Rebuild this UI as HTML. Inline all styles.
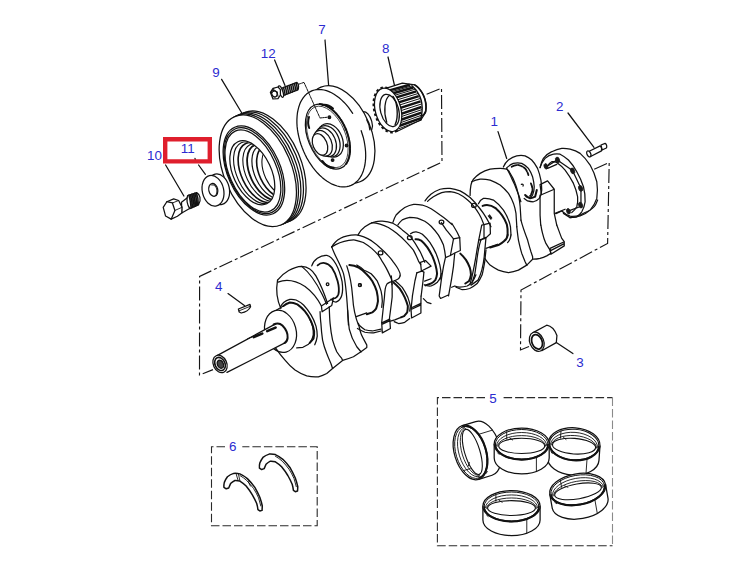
<!DOCTYPE html>
<html><head><meta charset="utf-8">
<style>
html,body{margin:0;padding:0;background:#fff;}
body{width:731px;height:570px;overflow:hidden;font-family:"Liberation Sans",sans-serif;}
svg{display:block}
.l{font-family:"Liberation Sans",sans-serif;font-size:13.4px;fill:#2b2bd0;}
.k{fill:none;stroke:#111;stroke-width:1.25;stroke-linecap:round;stroke-linejoin:round}
.w{fill:#fff;stroke:#111;stroke-width:1.25;stroke-linecap:round;stroke-linejoin:round}
.t{fill:none;stroke:#111;stroke-width:0.9;stroke-linecap:round;stroke-linejoin:round}
path,ellipse,circle,line,polygon,polyline,rect{vector-effect:non-scaling-stroke}
.d{fill:none;stroke:#151515;stroke-width:1.15;stroke-dasharray:14 3 3 3}
.b{fill:none;stroke:#2a2a2a;stroke-width:1.1;stroke-dasharray:8.5 3}
</style></head>
<body>
<svg width="731" height="570" viewBox="0 0 731 570">
<rect width="731" height="570" fill="#fff"/>
<defs><g id="ring">
 <path class="w" d="M-27.5 0 L-27.5 14 A27.5 16 0 0 0 27.5 14 L27.5 0 Z"/>
 <ellipse class="w" rx="27.5" ry="16"/>
 <ellipse class="k" rx="26.3" ry="14.8" cy="0.3" style="stroke-width:1"/>
 <path class="k" d="M-26.3 0.6 A26.3 14.8 0 0 0 26.3 0.6" style="stroke-width:1.7"/>
 <path class="t" d="M-25 1.5 A25 13 0 0 1 25 1.5"/>
 <path class="t" d="M-24 2.2 A24 10.6 0 0 1 24 2.2"/>
 <ellipse class="k" rx="23" ry="7.6" cy="1.9" style="stroke-width:1.1"/>
 <path class="t" d="M14.7 13.6 L14.7 27.4"/>
 <path class="t" d="M-15 -12.4 L-15 -5 M-12 -6 L-9 -4"/>
 <path class="t" d="M-24 9 L-22.5 10.5"/>
</g></defs>

<!-- DASHDOT -->
<g id="dashdot">
<path class="d" d="M426.6 94.3 L441.5 88.2 L442 162 L199.6 276.4 L199.5 375 L213 369.6"/>
<path class="d" d="M594.2 169.2 L609.2 162.5 L607.6 243.4 L521 290 L520.5 350 L529 346.5"/>
</g>

<!-- BOXES -->
<g id="boxes">
<path class="b" d="M485 397.6 L437.4 397.6 L437.4 545.7 L612.5 545.7"/><path class="b" d="M503.6 397.6 L612.5 397.6"/><path class="b" d="M612.5 397.6 L612.5 545.7" style="stroke:#8a8a8a"/>
<path class="b" d="M225 446.7 L211.5 446.7 L211.5 525.7 L317.2 525.7 L317.2 446.7 L242.3 446.7"/>
</g>

<!-- PARTS -->
<g id="parts">
<!-- CRANK -->
<g id="crank">
<!-- C6: tile [260,230,382,325] 6x -->
<g id="c6" class="k" transform="translate(260,230) scale(0.16689)">
 <path d="M105 300 C 98 340, 98 410, 125 470"/>
 <path d="M105 300 C 140 255, 200 220, 250 218 C 290 220, 315 240, 335 275 C 360 320, 385 380, 405 440"/>
 <path d="M108 312 C 150 295, 210 300, 270 338 C 320 375, 350 420, 368 455"/>
 <path d="M250 218 C 290 250, 340 320, 372 385 C 382 405 392 425 398 445"/>
 <path d="M368 455 L372 490 M368 455 L440 408 M372 490 L430 452 L440 408"/>
 <path d="M310 215 C 320 180, 360 150, 400 152 C 440 160, 475 230, 492 310 C 500 370, 490 420, 455 432 C 440 432 430 422 425 415"/>
 <path d="M345 212 C 370 188, 405 195, 430 225 C 460 270, 480 340, 470 385 C 462 405 450 410 440 410" style="stroke-width:1.8"/>
 <circle cx="405" cy="325" r="8"/>
 <path d="M430 100 C 440 140, 480 200, 500 260 C 515 320, 520 400, 525 480 L 530 569"/>
 <path d="M520 215 C 535 260 550 330 555 400 C 558 450 570 520 590 569"/>
 <circle cx="598" cy="330" r="8"/>
</g>
<!-- D6: tile [330,185,452,280] 6x -->
<g id="d6" class="k" transform="translate(330,185) scale(0.16689)">
 <path d="M10 372 C 25 345, 45 328, 60 321 C 90 305, 125 298, 157 299 C 190 304, 222 318, 250 335 C 268 347, 285 361, 300 376 C 318 392, 335 408, 350 425 C 362 438, 372 450, 380 462 C 388 472, 394 481, 400 490 C 408 502, 414 514, 418 525 C 421 533, 421 540, 420 545"/>
 <path d="M168 299 C 180 275, 195 260, 209 250 C 230 235, 250 225, 269 221 C 285 217, 300 216, 314 217 C 335 219, 355 222, 374 228 C 395 238, 415 252, 433 269 C 452 283, 470 298, 486 314 C 505 340, 522 368, 538 396 C 550 420, 560 442, 568 463"/>
 <path d="M377 224 C 382 208, 388 193, 396 180 C 412 162, 430 147, 448 135 C 465 126, 483 119, 501 116 C 518 115, 536 117, 553 120 C 572 126, 590 133, 606 142 C 625 154, 643 167, 660 180 C 675 190, 688 200, 700 210 L 731 237"/>
 <path d="M407 239 C 415 227, 424 217, 433 209 C 448 202, 463 197, 478 194 C 493 194, 508 195, 523 198 C 538 203, 553 210, 568 217 C 582 226, 595 236, 606 247 C 622 264, 637 282, 650 300 C 662 320, 672 340, 680 360 C 686 385 690 410 692 430"/>
 <ellipse cx="303" cy="407" rx="14" ry="12"/><ellipse cx="478" cy="316" rx="14" ry="12"/><ellipse cx="668" cy="222" rx="14" ry="12"/>
</g>
<!-- F6: tile [400,140,522,235] 6x -->
<g id="f6" class="k" transform="translate(400,140) scale(0.16689)">
 <path d="M150 365 C 160 350, 172 336, 185 325 C 202 312, 220 302, 240 295 C 260 290, 280 289, 300 290 C 320 293, 340 298, 360 305 C 382 316, 402 330, 420 345 C 438 362, 455 380, 470 400 C 482 415, 492 428, 500 440 C 512 458, 522 474, 530 490 L 545 520"/>
 <path d="M165 368 C 176 357, 188 348, 200 340 C 216 330, 233 321, 250 315 C 267 311, 284 310, 300 310 C 317 312, 334 316, 350 322 C 368 331, 385 342, 400 355 C 415 367, 428 380, 440 395 C 453 411, 465 428, 475 445 C 485 462, 493 481, 500 500"/>
 <ellipse cx="443" cy="392" rx="14" ry="12"/>
 <path d="M420 332 C 420 310, 421 290, 425 270 C 428 257, 433 245, 440 235 C 452 221, 466 209, 480 200 C 499 189, 519 181, 540 175 C 560 171, 580 170, 600 170 C 614 170, 628 172, 640 175 C 650 180, 656 190, 660 200 C 672 218, 682 238, 690 260 C 699 282, 705 306, 710 330 C 715 353, 718 376, 720 400 L 725 480"/>
 <path d="M430 250 C 446 243, 463 238, 480 235 C 500 234, 520 236, 540 240 C 561 248, 581 258, 600 270 C 618 285, 635 302, 650 320 C 662 339, 672 359, 680 380 C 687 400, 692 420, 695 440 L 700 520"/>
 <path d="M470 382 C 478 365, 488 355, 500 350 C 520 348, 541 352, 560 360 C 582 376, 602 397, 620 420 C 636 445, 655 480, 662 520 L 665 569"/>
 <path d="M495 395 C 520 385, 550 392, 575 410 C 600 432, 625 465, 640 505 C 645 525, 646 548, 645 569" style="stroke-width:2"/>
</g>
<!-- G6: tile [490,135,612,230] 6x -->
<g id="g6" transform="translate(490,135) scale(0.16689)">
 <g class="k">
 <!-- W8 ring -->
 <path d="M80 192 C 90 170, 100 158, 110 150 C 128 136, 145 128, 160 125 C 178 122, 195 122, 210 125 C 226 132, 240 140, 250 150 C 265 166, 276 183, 285 200 C 294 223, 300 246, 305 270 C 308 290, 310 310, 310 330 C 308 350, 303 368, 295 380 C 285 392, 273 398, 260 400 C 245 400, 232 397, 225 395 L205 380"/>
 <path d="M100 197 C 112 185, 126 176, 140 170 C 157 166, 174 166, 190 170 C 206 178, 220 188, 230 200 C 241 216, 249 233, 255 250 C 260 270, 264 290, 265 310 C 265 330, 261 347, 255 360 C 249 368, 242 373, 235 375 L215 370"/>
 <path d="M130 190 C 145 182, 160 178, 172 180 C 188 184, 200 192, 210 200 C 220 212, 226 226, 230 240" style="stroke-width:1.8;stroke-dasharray:5 1.5"/>
 <path d="M245 290 C 252 305, 255 320, 254 332 C 252 346, 247 357, 240 365" style="stroke-width:1.8;stroke-dasharray:5 1.5"/>
 <path d="M100 200 C 112 220, 122 240, 130 260 C 142 283, 152 306, 160 330 C 170 353, 178 376, 185 400"/>
 <path d="M188 296 C 196 292, 202 298, 198 306"/>
 <!-- W8 block -->
 <path d="M300 297 L345 275 L385 325 L308 358 M300 297 L308 358"/>
 <path d="M300 360 L300 480 L304 540 M385 328 L385 470 L400 540"/>
 <!-- flange -->
 <path d="M300 195 C 305 172, 312 154, 320 140 C 335 122, 352 108, 370 100 C 390 90, 410 83, 430 80 C 447 79, 464 81, 480 85 C 502 91, 522 99, 540 110 C 563 130, 583 154, 600 180 C 618 212, 631 245, 640 280 C 645 313, 645 347, 640 380 C 631 408, 617 431, 600 450 C 582 466, 562 478, 540 485 C 520 492, 500 495, 480 495 L440 470"/>
 <path d="M300 195 C 308 172, 318 153, 330 140 C 345 126, 362 118, 380 115 C 394 112, 408 112, 420 115 C 438 124, 455 136, 470 150 C 490 171, 506 195, 520 220 C 537 249, 550 279, 560 310 C 568 340, 571 370, 570 400 C 567 423, 560 443, 550 460 C 541 472, 531 482, 520 490 L480 495"/>
 <path d="M340 190 C 348 176, 358 166, 370 160 C 380 158, 390 160, 400 165 C 418 178, 435 193, 450 210 C 469 235, 486 262, 500 290 C 512 316, 520 343, 525 370 C 527 391, 525 411, 520 430 C 512 444, 502 456, 490 465"/>
 <path d="M345 186 L398 152 M412 156 L488 208 M500 225 L540 308 M545 335 L545 405 M538 430 L480 452"/>
 <path d="M345 200 L400 176 M390 470 L450 445"/>
 </g>
 <g fill="#1a1a1a" stroke="#1a1a1a" stroke-width="0.8">
  <ellipse cx="335" cy="188" rx="11" ry="17" transform="rotate(-20 335 188)"/>
  <ellipse cx="405" cy="150" rx="12" ry="18" transform="rotate(-20 405 150)"/>
  <ellipse cx="495" cy="215" rx="12" ry="18" transform="rotate(-20 495 215)"/>
  <ellipse cx="543" cy="320" rx="12" ry="18" transform="rotate(-20 543 320)"/>
  <ellipse cx="543" cy="420" rx="12" ry="18" transform="rotate(-20 543 420)"/>
  <ellipse cx="470" cy="457" rx="11" ry="17" transform="rotate(-20 470 457)"/>
 </g>
 <!-- pin 2 -->
 <g class="w">
  <path d="M665 60 L690 50 C700 55 702 72 697 78 L672 90 Z"/>
  <path d="M588 100 L660 65 C668 72 670 88 668 95 L600 130 Z"/>
  <ellipse cx="592" cy="113" rx="11" ry="19" transform="rotate(-25 592 113)"/>
 </g>
</g>
<!-- K8: tile [395,225,486,296] 8x -->
<g id="k8" class="k" transform="translate(395,225) scale(0.124487)">
 <path d="M125 70 C 140 58, 155 54, 170 55 C 188 58, 205 65, 220 75 C 242 95, 262 117, 280 140 C 299 169, 316 199, 330 230 C 342 259, 352 289, 360 320 C 366 347, 370 374, 370 400 C 368 415 365 430 360 440"/>
 <path d="M165 115 C 180 114, 196 118, 210 125 C 228 141, 245 160, 260 180 C 275 203, 288 226, 300 250 C 310 273, 318 296, 325 320 C 331 343, 336 367, 338 390 C 336 408, 332 425, 325 440 C 315 452, 303 462, 290 470 L 245 485" style="stroke-width:2"/>
 <path d="M205 300 L245 285 L290 330 L212 370 Z"/>
 <path d="M175 385 L215 370 L232 378"/>
 <path d="M175 385 C 170 410, 165 430, 160 450 L 140 570 M232 380 C 230 405, 228 428, 225 450 L 210 570"/>
 <path d="M235 480 C 255 490, 272 492, 290 490 C 308 483, 325 473, 340 460 C 350 448, 358 434, 365 420 L 372 390"/>
 <path d="M470 112 L520 102 L525 205 L480 225 L445 245 Z"/>
 <path d="M372 -20 C 388 4, 405 30, 420 50 L 470 112"/>
 <path d="M456 -14 C 471 10, 486 35, 500 60 L 520 102"/>
 <path d="M405 262 L445 245 M405 262 C 400 285, 395 308, 390 330 C 385 360, 380 390, 375 420 L 355 570 L 366 590 L 428 562 M480 228 C 476 262, 473 296, 470 330 C 465 363, 460 397, 455 430 L 430 570"/>
 <path d="M525 230 C 541 245, 556 262, 570 280 C 582 299, 592 319, 600 340 C 606 360, 610 380, 610 400 C 607 418, 602 435, 595 450 L 565 470" style="stroke-width:2"/>
 <path d="M455 500 L480 490 C 493 495, 506 499, 520 500 C 541 499, 561 496, 580 490 C 595 482, 608 472, 620 460 C 632 441, 642 421, 650 400"/>
 <path d="M690 120 C 682 146, 675 173, 670 200 C 664 233, 659 266, 655 300 C 650 333, 645 367, 640 400 L 620 460"/>
 <path d="M731 200 C 727 233, 724 266, 720 300 C 714 334, 708 368, 700 400 C 689 426, 675 450, 660 470 C 641 486, 621 500, 600 510 C 580 516, 560 520, 540 520 L 490 500"/>
 <path d="M690 120 L715 105 L731 100 M715 105 L715 0"/>
</g>
<!-- L8: tile [355,215,446,286] 8x -->
<g id="l8" class="k" transform="translate(355,215) scale(0.124487)">
 <path d="M-187 256 C -150 232, -100 212, -50 204 C -30 201, -10 200, 0 201 C 23 206, 46 212, 67 221 C 90 235, 113 251, 134 268 C 153 285, 171 303, 188 322 C 200 340, 211 358, 221 377 C 232 393, 241 409, 250 425 C 259 442, 267 458, 275 475 L 293 515 L 298 560"/>
 <path d="M134 62 C 156 64, 180 68, 201 74 C 224 81, 247 90, 268 100 C 291 114, 314 130, 335 147 C 358 166, 381 186, 402 208 C 425 232, 448 256, 469 282 C 484 310, 498 340, 510 370 L 528 398"/>
</g>
<!-- O8: tile [255,295,346,366] 8x : J0 + nose -->
<g id="o8" transform="translate(255,295) scale(0.124487)">
 <g class="k">
  <path d="M160 128 L228 88"/>
  <path d="M205 95 C 212 80, 220 68, 230 60 C 245 48, 262 40, 280 35 C 297 33, 314 35, 330 40 C 352 50, 372 64, 390 80 C 413 104, 433 131, 450 160 C 467 188, 480 218, 490 250 C 497 276, 500 303, 500 330 C 497 355, 490 378, 480 400"/>
  <path d="M228 88 C 243 75, 261 66, 280 60 C 300 60, 321 66, 340 75 C 362 90, 382 109, 400 130 C 420 154, 436 181, 450 210 C 462 236, 470 262, 475 290 C 476 310, 474 330, 470 350 L 440 385" style="stroke-width:2"/>
  <path d="M440 195 C 450 216, 459 238, 465 260 C 468 280, 469 300, 468 320 C 465 334, 461 348, 455 360 C 448 373, 440 385, 430 395 L 385 420 L 335 425"/>
 </g>
 <ellipse class="w" cx="205" cy="292" rx="125" ry="172" transform="rotate(-15 205 292)"/>
 <path class="w" d="M-305 487 L165 232 C 215 225 262 300 255 370 L240 385 L-225 622 Z" style="stroke:none"/>
 <g class="k">
  <path d="M-305 487 L165 232 M-225 622 L240 385"/>
  <path d="M150 237 C 175 225, 200 226, 220 245 C 245 270, 265 310, 262 345 C 260 365 250 380 237 386" style="stroke-width:2"/>
  <path d="M98 290 L165 262 M-10 338 L58 310" style="stroke-width:2.6"/>
  <path d="M-60 352 L-20 335" style="stroke-width:1"/>
 </g>
 <g class="w">
  <ellipse cx="-281" cy="554" rx="54" ry="73" transform="rotate(-25 -281 554)"/>
  <ellipse cx="-281" cy="554" rx="40" ry="55" transform="rotate(-25 -281 554)" style="stroke-width:1.6"/>
  <ellipse cx="-278" cy="556" rx="24" ry="34" transform="rotate(-25 -278 556)" style="fill:#444"/>
 </g>
</g>
<!-- N6: tile [270,290,392,385] 6x : W1 bottom -->
<g id="n6" class="k" transform="translate(270,290) scale(0.16689)">
 <path d="M33 347 C 50 372, 70 398, 90 420 C 108 442, 128 462, 150 480 C 172 495, 195 507, 220 515 C 243 520, 267 522, 290 520 C 308 515, 325 508, 340 500 L 375 470"/>
 <path d="M300 130 C 301 153, 302 177, 305 200 C 307 233, 310 267, 315 300 C 321 328, 330 355, 340 380 C 347 400, 356 420, 365 440 L 375 470"/>
 <path d="M355 100 C 356 133, 357 167, 360 200 C 363 234, 368 268, 375 300 C 382 324, 390 348, 400 370 C 409 384, 419 398, 430 410 L 435 422 L 375 470"/>
 <path d="M465 120 C 467 155, 470 195, 475 235 C 482 265, 495 300, 520 340 L 545 370"/>
 <path d="M530 200 C 535 225, 540 250, 548 268 C 558 290, 570 310, 580 330 L 580 345 L 545 370"/>
 <path d="M435 422 C 450 418, 470 412, 500 400 L 545 370"/>
</g>
<!-- Q8: tile [340,270,431,341] 8x -->
<g id="q8" class="k" transform="translate(340,270) scale(0.124487)">
 <path d="M75 -40 C 100 -38, 125 -32, 150 -20 C 172 -8, 192 10, 210 30 C 229 48, 246 68, 260 90 C 274 115, 286 142, 295 170 C 301 196, 305 223, 305 250 C 302 271, 297 291, 290 310 C 281 322, 271 332, 260 340 L 215 355" style="stroke-width:2"/>
 <path d="M135 -40 C 155 -30, 175 -15, 190 0 C 211 8, 231 18, 250 30 C 268 48, 285 68, 300 90 C 312 116, 322 143, 330 170 C 336 196, 339 223, 340 250 L 335 300"/>
 <circle cx="160" cy="122" r="12"/>
 <path d="M130 375 L215 345"/>
 <path d="M140 470 C 160 482, 180 492, 200 500 C 223 504, 247 506, 270 505 L 330 490 M150 440 C 165 455, 182 468, 200 480 C 220 486, 240 489, 260 490 L 330 475"/>
 <path d="M482 47 C 480 58, 475 66, 469 71 C 458 78, 446 84, 435 88 C 420 92, 410 94, 402 97 C 390 102, 381 108, 376 114 C 369 126, 365 140, 363 154 C 360 175, 358 196, 357 217 L 335 422 M412 47 L417 97 C 419 140, 420 180, 419 217 C 413 270, 405 330, 396 398"/>
 <path d="M335 425 L400 395 L405 470 L340 505 Z M336 437 L401 407"/>
 <path d="M430 100 C 448 115, 465 132, 480 150 C 495 172, 509 196, 520 220 C 530 243, 539 266, 545 290 C 545 307, 543 324, 540 340 L 515 370 L 490 380" style="stroke-width:2"/>
 <path d="M440 85 C 461 102, 481 120, 500 140 C 517 165, 532 192, 545 220 C 553 243, 560 266, 565 290 L 560 330"/>
 <path d="M405 410 L440 400 L490 380 M435 415 C 447 421, 458 426, 470 430 C 487 428, 504 425, 520 420 L 560 390"/>
 <path d="M582 209 L572 300 M651 209 L650 265"/>
 <path d="M570 305 L650 268 L650 345 L575 385 Z M571 317 L650 280"/>
 <path d="M680 90 L731 70 M670 230 L700 260 L731 270"/>
</g>
<!-- R6: tile [440,190,562,285] 6x -->
<g id="r6" class="k" transform="translate(440,190) scale(0.16689)">
 <path d="M250 210 L300 198 L302 262 L272 290 L232 300 Z"/>
 <path d="M232 300 C 226 333, 220 367, 215 400 C 208 440, 198 500, 180 564 M275 290 C 272 327, 268 363, 265 400 C 260 445, 248 500, 228 540 L 186 570"/>
 <path d="M425 269 C 424 290, 415 305, 405 315"/>
 <path d="M405 269 C 404 285, 396 297, 385 305 C 374 315, 362 323, 350 330 L 300 345" style="stroke-width:2"/>
 <path d="M275 350 L345 325"/>
 <path d="M290 155 L305 175 M297 150 L310 168"/>
 <path d="M460 220 C 463 247, 466 274, 470 300 C 476 327, 482 354, 490 380 L 510 430 L 520 450"/>
 <path d="M485 180 C 495 220, 510 260, 525 300 C 531 324, 538 347, 545 370 L 555 400 L 555 415 L 520 450"/>
 <path d="M268 410 C 278 425, 288 438, 300 450 C 316 462, 332 472, 350 480 C 370 487, 390 492, 410 495 C 430 492, 450 487, 470 480 L 520 450"/>
 <path d="M510 30 C 520 40, 530 47, 540 50 C 550 48, 560 45, 570 40 L 580 0" style="stroke-width:2"/>
</g>
<!-- S6: tile [500,200,622,295] 6x -->
<g id="s6" class="k" transform="translate(500,200) scale(0.16689)">
 <path d="M245 150 C 248 170, 251 185, 255 200 C 260 222, 267 242, 275 260 L 300 300 L 305 320"/>
 <path d="M340 150 C 348 170 358 200 370 230 L 385 250 L 385 275 L 305 325 L 300 290 L 385 250 M300 305 L 382 263"/>
 <path d="M200 355 C 215 355, 228 353, 240 350 C 254 346, 267 341, 280 335 L 305 320"/>
 <path d="M335 82 L370 66 C 385 80, 400 90, 420 97 C 440 100, 460 97, 480 90 L 510 75 C 535 65, 560 50, 572 30 L 585 0"/>
</g>
</g>
<!-- P9: pulley (full coords) -->
<g id="p9">
<defs><clipPath id="c9"><ellipse cx="252.3" cy="172.8" rx="18.6" ry="33.8" transform="rotate(-25 252.3 172.8)"/></clipPath></defs>
<g class="w">
<ellipse cx="267.4" cy="166.7" rx="33.7" ry="58.9" transform="rotate(-23 267.4 166.7)"/>
<ellipse cx="264.8" cy="167.8" rx="33.7" ry="58.9" transform="rotate(-23 264.8 167.8)"/>
<ellipse cx="262.2" cy="168.9" rx="33.7" ry="58.9" transform="rotate(-23 262.2 168.9)"/>
<ellipse cx="259.8" cy="169.9" rx="33.7" ry="58.9" transform="rotate(-23 259.8 169.9)"/>
<ellipse cx="257.8" cy="170.8" rx="33.7" ry="58.9" transform="rotate(-23 257.8 170.8)"/>
<ellipse cx="253.9" cy="170.5" rx="26.3" ry="47.3" transform="rotate(-24 253.9 170.5)"/>
<ellipse cx="253.5" cy="170.7" rx="25.0" ry="45.6" transform="rotate(-24 253.5 170.7)"/>
<ellipse cx="252.9" cy="171.0" rx="23.6" ry="43.6" transform="rotate(-24 252.9 171.0)"/>
<ellipse cx="252.3" cy="172.8" rx="19" ry="34.2" transform="rotate(-25 252.3 172.8)"/>
</g>
<g class="k" clip-path="url(#c9)">
<ellipse cx="255.2" cy="172.7" rx="18.28" ry="33.0" transform="rotate(-25 255.2 172.7)" style="stroke-width:1.1"/>
<ellipse cx="259.2" cy="172.5" rx="17.85" ry="31.924999999999997" transform="rotate(-25 259.2 172.5)" style="stroke-width:1.6"/>
<ellipse cx="263.3" cy="172.3" rx="17.400000000000002" ry="30.799999999999997" transform="rotate(-25 263.3 172.3)" style="stroke-width:1.1"/>
<ellipse cx="267.0" cy="172.1" rx="17.0" ry="29.799999999999997" transform="rotate(-25 267.0 172.1)" style="stroke-width:1.8"/>
<ellipse cx="271.2" cy="172.0" rx="16.55" ry="28.674999999999997" transform="rotate(-25 271.2 172.0)" style="stroke-width:1.2"/>
<ellipse cx="275.3" cy="171.8" rx="16.1" ry="27.549999999999997" transform="rotate(-25 275.3 171.8)" style="stroke-width:1.6"/>
<ellipse cx="279.9" cy="171.6" rx="15.600000000000001" ry="26.299999999999997" transform="rotate(-25 279.9 171.6)" style="stroke-width:1.1"/>
</g>
</g>
<!-- P7: damper (full coords) -->
<g id="p7">
<g class="w">
<path d="M362.9 111.7 C 366 111.5, 369.5 114.5, 371.7 121.1 C 372.8 124.5 372.6 127.5 371.7 129.8 L 365 128 Z"/>
<ellipse cx="340.5" cy="134.4" rx="30.6" ry="51.2" transform="rotate(-22.5 340.5 134.4)"/>
<ellipse cx="331.3" cy="138.2" rx="30.6" ry="51.2" transform="rotate(-22.5 331.3 138.2)" style="stroke:none"/>
<path d="M361.2 130.7 L362.3 134.2 L363.4 137.8 L364.2 141.4 L364.8 145.0 L365.3 148.5 L365.6 152.0 L365.7 155.4 L365.6 158.7 L365.3 161.9 L364.9 165.0 L364.2 167.9 L363.4 170.7 L362.4 173.3 L361.3 175.7 L359.9 177.9 L358.4 179.8 L356.8 181.6 L355.0 183.1 L353.1 184.4 L351.1 185.4 L349.0 186.2 L346.8 186.7 L344.5 186.9 L342.1 186.9 L339.7 186.6 L337.2 186.0 L334.7 185.2 L332.1 184.2 L329.6 182.8 L327.1 181.3 L324.6 179.5 L322.1 177.4 L319.7 175.2 L317.3 172.8 L315.0 170.1 L312.8 167.4 L310.8 164.4 L308.8 161.3 L306.9 158.1 L305.2 154.7 L303.6 151.3 L302.2 147.8 L300.9 144.3 L299.8 140.7 L298.9 137.1 L298.1 133.5 L297.5 129.9 L297.1 126.4 L296.9 123.0 L296.9 119.6 L297.1 116.3 L297.4 113.2 L298.0 110.2 L298.7 107.3 L299.6 104.6 L300.6 102.1 L301.9 99.8 L303.3 97.7 L304.8 95.8 L306.5 94.1 L308.3 92.7 L310.3 91.6 L312.3 90.6 L314.5 90.0 L316.8 89.6 L319.1 89.5 L321.5 89.6 L324.0 90.0 L326.5 90.7 L329.0 91.6 L331.5 92.8 L334.1 94.2 L336.6 95.9 L339.1 97.7 L341.5 99.9 L343.9 102.2 L346.2 104.7 L348.5 107.4 L350.6 110.3 L352.7 113.3" style="fill:none"/>
<ellipse cx="327.7" cy="136.6" rx="19.6" ry="34.2" transform="rotate(-22.5 327.7 136.6)"/>
<ellipse cx="327.3" cy="136.9" rx="18.2" ry="32.4" transform="rotate(-22.5 327.3 136.9)" style="stroke-width:0.8"/>
<path d="M319.7 104.1 L321.1 104.3 L322.4 104.5 L323.8 104.9 L325.2 105.4 L326.6 106.0 L328.0 106.8 L329.5 107.7 L330.9 108.7 L332.3 109.8 L333.6 111.0 L335.0 112.3 L336.3 113.7 L337.6 115.2 L338.8 116.8 L340.0 118.5 L341.2 120.2 L342.3 122.0 L343.3 123.9 L344.3 125.8 L345.2 127.7 L346.1 129.7 L346.8 131.7 L347.5 133.8 L348.1 135.8 L348.7 137.9 L349.1 139.9 L349.5 142.0 L349.7 144.0 L349.9 146.0 L350.0 147.9 L350.0 149.8 L350.0 151.7 L349.8 153.5 L349.5 155.2 L349.2 156.8 L348.7 158.4 L348.2 159.9 L347.6 161.3 L346.9 162.5 L346.2 163.7" style="fill:none;stroke-width:2;stroke-dasharray:3.5 1"/>
<ellipse cx="330.6" cy="140.3" rx="11.8" ry="17.4" transform="rotate(-22.5 330.6 140.3)"/>
<ellipse cx="328.2" cy="141.2" rx="11.0" ry="16.3" transform="rotate(-22.5 328.2 141.2)"/>
<ellipse cx="325.6" cy="142.2" rx="10.0" ry="15.0" transform="rotate(-22.5 325.6 142.2)"/>
<ellipse cx="322.8" cy="143.3" rx="8.8" ry="13.4" transform="rotate(-22.5 322.8 143.3)"/>
<ellipse cx="320.0" cy="144.4" rx="7.0" ry="11.3" transform="rotate(-22.5 320.0 144.4)"/>
</g>
<g class="k">
<path d="M366.7 119.8 C 368.5 123, 369.6 126.5, 369.8 129.8"/>
<path d="M322.4 105 C 326 104.3, 330 105.8, 333 108.4" style="stroke-width:2"/>
<path d="M309 117 C 307.8 121, 308 125, 309.2 128" style="stroke-width:2"/>
<path d="M322.4 161.1 C 325 165, 329.5 167.6, 333.6 167.9" style="stroke-width:2.2"/>
<circle cx="329.4" cy="117.2" r="1.3" fill="#222"/>
<circle cx="346.6" cy="145.5" r="1.3" fill="#222"/>
<circle cx="332.6" cy="160.1" r="1.3" fill="#222"/>
<path d="M297.6 84.6 L304 82.4 L320 118 L327.6 117.2" stroke-dasharray="2.2 0.9 0.6 0.9" style="stroke-width:1"/>
</g>
</g>
<!-- P8: gear, tile [360,70,451,141] 8x -->
<g id="p8" transform="translate(360,70) scale(0.124487)">
 <ellipse class="k" cx="224" cy="321" rx="108" ry="184" transform="rotate(-15 224 321)" style="stroke-width:2.2;stroke-dasharray:2.6 2.4;stroke-linecap:butt"/>
 <g class="w">
  <path d="M195 152 L340 105 L440 120 C 500 160, 548 250, 527 340 L 490 400 L 300 492 Z"/>
 </g>
 <g class="k">
  <path d="M440 120 C 490 150, 540 230, 528 330 C 522 350 510 365 492 372" style="stroke-width:1.6"/>
  <path d="M420 128 C 465 165, 508 240, 498 335 L 490 400" style="stroke-width:1.4"/>
 </g>
 <g class="k" style="stroke-width:2.5;stroke-linecap:butt">
  <path d="M215 170 L400 118 M240 195 L428 140 M265 228 L452 172 M285 268 L472 210 M300 312 L486 252 M312 358 L494 297 M318 404 L494 342 M318 448 L490 386"/>
 </g>
 <g class="k" style="stroke-width:1">
  <path d="M228 182 L415 128 M253 211 L440 155 M276 247 L463 190 M293 289 L480 230 M306 334 L491 274 M315 380 L495 319 M318 426 L493 364 M312 472 L488 404"/>
 </g>
 <g class="w">
  <ellipse cx="226" cy="320" rx="103" ry="178" transform="rotate(-15 226 320)"/>
  <ellipse cx="238" cy="325" rx="73" ry="133" transform="rotate(-15 238 325)"/>
 </g>
 <g class="k">
  <path d="M265 212 C 300 255, 312 375, 282 440" style="stroke-width:1.4"/>
  <path d="M236 205 C 200 230, 185 330, 215 420"/>
 </g>
</g>
<!-- P10: bolt 10 + washer 11, tile [155,165,246,236] 8.033x -->
<g id="p10" transform="translate(155,165) scale(0.124487)">
 <g class="w">
  <path d="M213 300 L262 262 L278 350 L215 385 Z"/>
  <path d="M262 245 L335 222 C360 235 375 280 350 318 L280 350 C258 320 252 280 262 245 Z"/>
  <path d="M95 295 L150 272 L190 285 L217 340 L215 385 L180 412 L130 435 Z"/>
  <path d="M66 340 L95 295 L140 305 L160 365 L130 435 L85 410 Z"/>
 </g>
 <g class="t">
  <path d="M140 305 L190 285 M160 365 L217 340"/>
  <path style="stroke-width:1.5" d="M272 243 C282 273 287 313 290 345 M284 239 C294 269 299 309 302 341 M296 235 C306 265 311 305 314 335 M308 231 C318 261 323 301 326 331 M320 227 C331 257 336 297 337 325 M332 224 C344 254 349 290 348 319"/>
 </g>
 <g class="w">
  <ellipse cx="511" cy="195" rx="86" ry="125" transform="rotate(-13 511 195)"/>
  <ellipse cx="466" cy="207" rx="86" ry="125" transform="rotate(-13 466 207)"/>
  <ellipse cx="468" cy="200" rx="36" ry="52" transform="rotate(-13 468 200)"/>
 </g>
 <path class="t" d="M455 160 C 498 150 512 225 482 250"/>
</g>
<!-- P12: bolt 12, tile [190,10,336,124] 5x -->
<g id="p12" transform="translate(190,10) scale(0.2)">
 <g class="w">
  <path d="M460 390 L535 362 C545 370 545 392 538 400 L465 428 Z"/>
  <ellipse cx="455" cy="408" rx="9" ry="30" transform="rotate(-20 455 408)"/>
  <path d="M402 412 L415 392 L440 385 L452 398 L452 425 L440 443 L415 445 Z"/>
  <ellipse cx="422" cy="418" rx="13" ry="17" transform="rotate(-20 422 418)"/>
 </g>
 <path class="t" style="stroke-width:1.5" d="M468 388 L476 424 M477 384 L485 420 M486 381 L494 417 M495 377 L503 413 M504 374 L512 410 M513 371 L521 406 M522 367 L530 403 M531 364 L538 399"/>
 <path class="k" d="M407 416 L420 405 L436 410 M420 405 L418 392 M436 410 L440 432" style="stroke-width:1"/>
</g>
<!-- KEY4 tile [170,230,316,344] 5x -->
<g id="key4" transform="translate(170,230) scale(0.2)">
 <path class="w" d="M342 395 L400 372 L403 384 C 395 400 375 412 356 415 L346 410 Z"/>
 <path class="t" d="M346 404 L402 381"/>
</g>
<!-- BUSH3 tile [510,310,601,381] 8x -->
<g id="bush3" transform="translate(510,310) scale(0.124487)">
 <path class="w" d="M185 182 L295 122 C 330 128 362 165 377 205 L372 262 L255 327 Z"/>
 <ellipse class="w" cx="215" cy="255" rx="56" ry="80" transform="rotate(-22 215 255)"/>
 <ellipse class="k" cx="217" cy="256" rx="41" ry="60" transform="rotate(-22 217 256)" style="stroke-width:1.8"/>
</g>
<!-- BEARINGS 5 -->
<g id="bear5">
 <use href="#ring" transform="translate(470.5,452.5) rotate(-107) scale(1.02,1)"/>
 <use href="#ring" transform="translate(574.2,444.2) rotate(4) scale(0.94,1.03)"/>
 <use href="#ring" transform="translate(521.7,444)"/>
 <use href="#ring" transform="translate(511.5,506.2) scale(1.04,0.98)"/>
 <use href="#ring" transform="translate(577.7,489.5) rotate(-10) scale(1.03,0.98)"/>
</g>
<!-- WASHERS 6 tile [215,445,306,516] 8x -->
<g id="wash6" transform="translate(215,445) scale(0.124487)">
 <g id="wsh">
 <path class="w" d="M72 340 C 70 325, 72 312, 75 300 C 82 283, 90 268, 100 255 C 115 243, 132 234, 150 228 C 167 227, 184 228, 200 232 C 222 242, 242 255, 260 270 C 282 292, 302 315, 320 340 C 335 366, 348 393, 360 420 C 368 443, 375 466, 380 490 L 378 525 L 360 530 L 345 520 C 343 503, 340 486, 335 470 C 325 446, 313 423, 300 400 C 285 375, 268 352, 250 330 C 235 315, 218 301, 200 290 C 186 286, 173 284, 160 285 C 147 291, 135 300, 125 310 L 110 345 L 90 352 Z" style="stroke-width:1.5"/>
 <path class="t" d="M200 245 C 220 256, 238 270, 255 285 C 275 305, 293 327, 310 350 C 325 374, 339 399, 350 425 L 368 490"/>
 </g>
 <path class="t" d="M170 233 L185 283 M188 232 L200 288 M265 292 L285 330"/>
 <use href="#wsh" transform="translate(285,-155)"/>
</g>
</g>
<!-- LEADERS -->
<g id="leaders" class="k">
<path d="M165.6 165 L183.9 196"/>
<path d="M198.6 165 L205.4 174.3"/>
<path d="M195 158.4 L195.4 160"/>
<path d="M274.6 60 L285 85.6"/>
<path d="M325 40 L328.6 85"/>
<path d="M388 57 L394.4 85"/>
<path d="M221.6 79.4 L242.4 114"/>
<path d="M498 131.6 L506.7 158.5"/>
<path d="M568 113 L594 147.3"/>
<path d="M228 293.6 L244.4 305.6"/>
<path d="M556.3 342.6 L572.9 353.6"/>
</g>

<!-- REDBOX -->
<rect x="165.2" y="139.2" width="44.6" height="22.2" fill="none" stroke="#df1f2d" stroke-width="4.4"/>

<!-- LABELS -->
<g id="labels" class="l">
<text x="318.3" y="33.8">7</text>
<text x="260.8" y="58">12</text>
<text x="382" y="53.2">8</text>
<text x="212.3" y="77.2">9</text>
<text x="490.5" y="126">1</text>
<text x="556" y="110.6">2</text>
<text x="147" y="160.4">10</text>
<text x="180.8" y="153.4">11</text>
<text x="215" y="290.6">4</text>
<text x="576.3" y="366.8">3</text>
<text x="489.3" y="403.1">5</text>
<text x="229" y="451.4">6</text>
</g>
</svg>
</body></html>
